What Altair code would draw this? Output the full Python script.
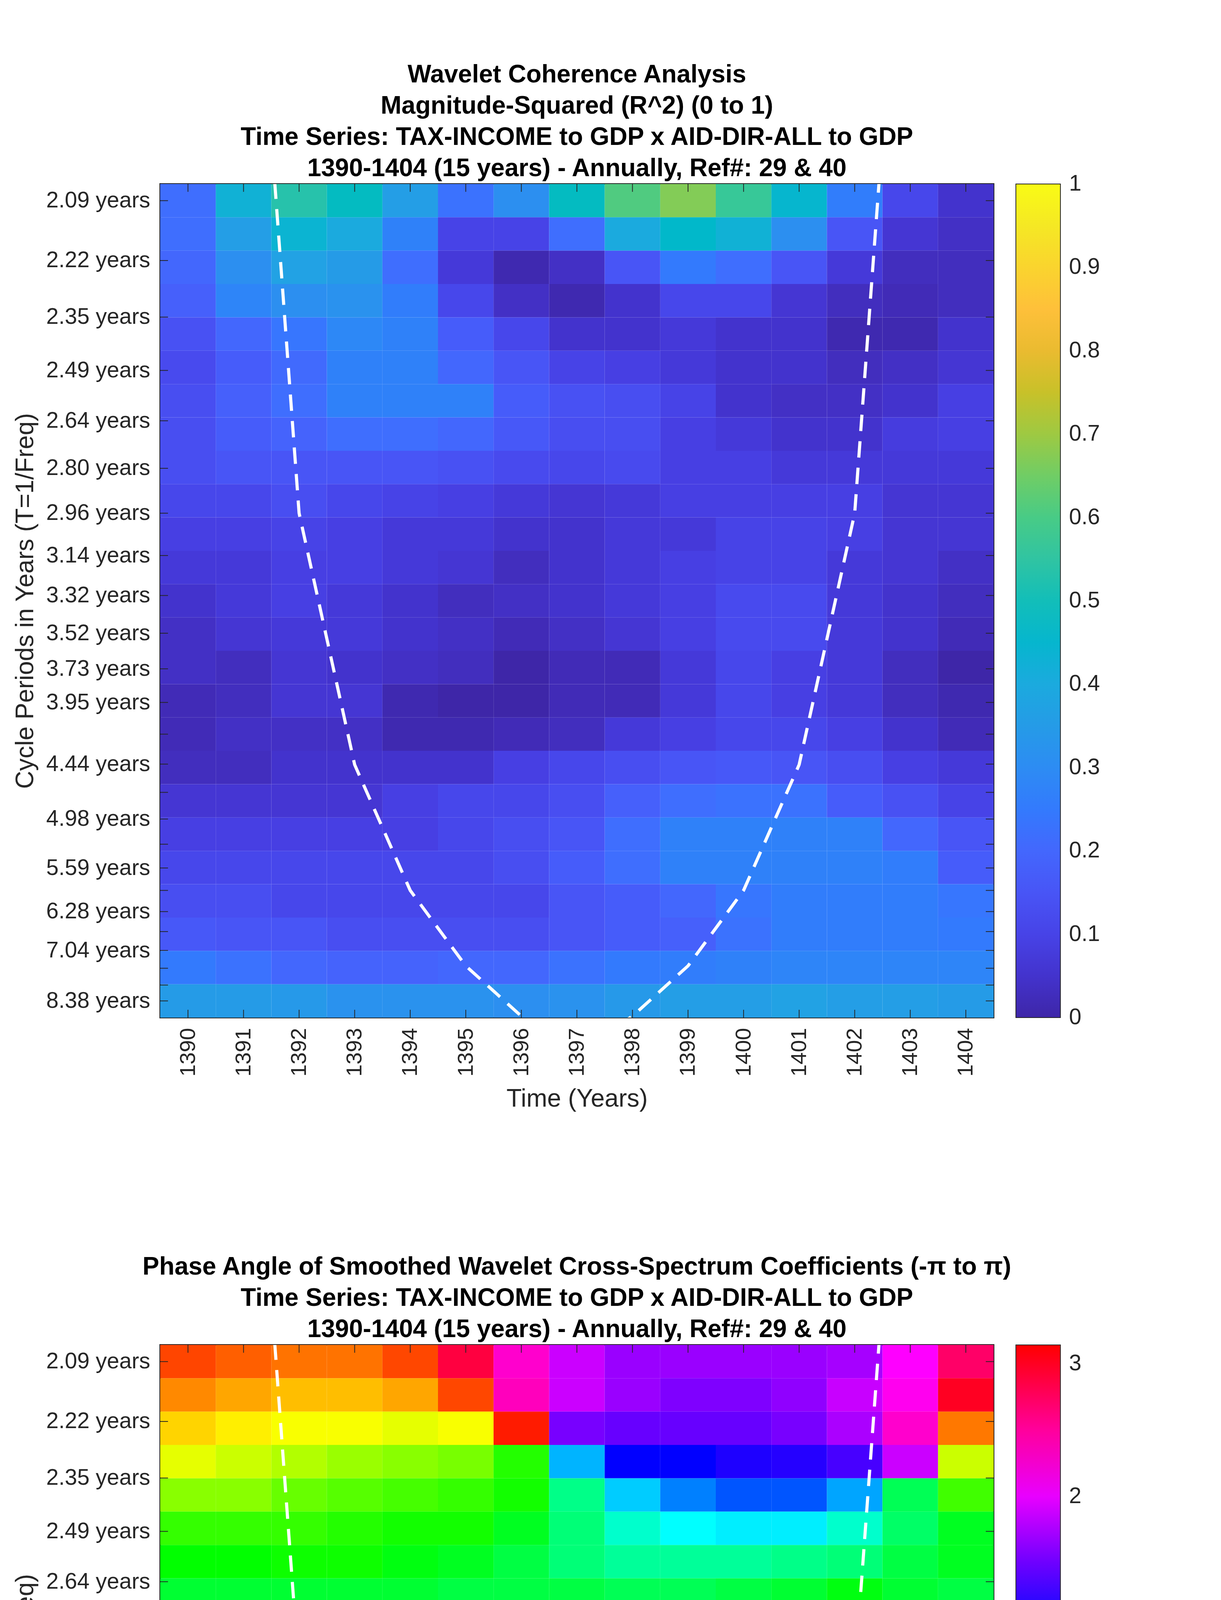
import altair as alt
import pandas as pd

# ---------------- data ----------------
YEARS = [1390, 1391, 1392, 1393, 1394, 1395, 1396, 1397, 1398, 1399, 1400, 1401, 1402, 1403, 1404]

# wavelet scale periods (years), top row -> bottom row; also the y tick positions
SCALE_PERIODS = [2.0944, 2.2189, 2.3509, 2.4907, 2.6388, 2.7957, 2.9620, 3.1381, 3.3247,
                 3.5224, 3.7318, 3.9537, 4.1888, 4.4379, 4.7018, 4.9813, 5.2775, 5.5914,
                 5.9238, 6.2761, 6.6493, 7.0447, 7.4636, 7.9074, 8.3776]
PERIOD_LABELED = [True, True, True, True, True, True, True, True, True, True, True, True,
                  False, True, False, True, False, True, False, True, False, True, False, False, True]

# cone of influence (period in years at each year)
COI_YEARS = [1391, 1392, 1393, 1394, 1395, 1396, 1397, 1398, 1399, 1400, 1401, 1402, 1403]
COI_PERIODS = [1.481, 2.962, 4.443, 5.924, 7.405, 8.886, 10.367, 8.886, 7.405, 5.924, 4.443, 2.962, 1.481]

# magnitude-squared coherence, one list per period row (top -> bottom), columns = YEARS
COHERENCE = [
    [0.22, 0.43, 0.53, 0.48, 0.36, 0.23, 0.31, 0.48, 0.61, 0.67, 0.57, 0.45, 0.26, 0.11, 0.05],
    [0.22, 0.36, 0.44, 0.40, 0.27, 0.10, 0.10, 0.22, 0.40, 0.46, 0.43, 0.31, 0.15, 0.06, 0.04],
    [0.20, 0.31, 0.37, 0.35, 0.22, 0.07, 0.01, 0.04, 0.15, 0.25, 0.22, 0.15, 0.07, 0.03, 0.03],
    [0.18, 0.28, 0.31, 0.32, 0.26, 0.11, 0.04, 0.01, 0.05, 0.11, 0.11, 0.06, 0.03, 0.02, 0.03],
    [0.14, 0.20, 0.24, 0.29, 0.27, 0.17, 0.11, 0.05, 0.05, 0.07, 0.05, 0.05, 0.01, 0.01, 0.05],
    [0.12, 0.17, 0.21, 0.27, 0.27, 0.20, 0.15, 0.10, 0.09, 0.07, 0.05, 0.05, 0.03, 0.04, 0.06],
    [0.13, 0.18, 0.22, 0.27, 0.27, 0.27, 0.17, 0.14, 0.13, 0.10, 0.05, 0.04, 0.04, 0.05, 0.09],
    [0.13, 0.17, 0.19, 0.22, 0.22, 0.20, 0.16, 0.13, 0.13, 0.09, 0.07, 0.05, 0.05, 0.08, 0.09],
    [0.13, 0.15, 0.15, 0.15, 0.15, 0.14, 0.12, 0.11, 0.12, 0.09, 0.09, 0.07, 0.07, 0.07, 0.07],
    [0.11, 0.11, 0.13, 0.11, 0.10, 0.09, 0.07, 0.06, 0.07, 0.09, 0.09, 0.09, 0.09, 0.06, 0.06],
    [0.09, 0.09, 0.10, 0.09, 0.07, 0.07, 0.05, 0.05, 0.07, 0.07, 0.10, 0.10, 0.09, 0.06, 0.06],
    [0.07, 0.07, 0.09, 0.09, 0.07, 0.06, 0.03, 0.05, 0.07, 0.09, 0.10, 0.10, 0.07, 0.06, 0.04],
    [0.05, 0.07, 0.09, 0.07, 0.05, 0.03, 0.04, 0.05, 0.07, 0.09, 0.12, 0.12, 0.07, 0.05, 0.03],
    [0.04, 0.06, 0.07, 0.07, 0.05, 0.04, 0.02, 0.04, 0.06, 0.09, 0.12, 0.12, 0.07, 0.05, 0.02],
    [0.04, 0.03, 0.06, 0.05, 0.04, 0.03, 0.00, 0.02, 0.02, 0.07, 0.11, 0.09, 0.07, 0.03, 0.00],
    [0.02, 0.03, 0.06, 0.06, 0.01, 0.00, 0.00, 0.02, 0.02, 0.07, 0.11, 0.09, 0.07, 0.03, 0.01],
    [0.02, 0.04, 0.04, 0.04, 0.01, 0.01, 0.02, 0.03, 0.07, 0.09, 0.11, 0.11, 0.09, 0.05, 0.02],
    [0.03, 0.03, 0.05, 0.05, 0.05, 0.05, 0.09, 0.11, 0.13, 0.15, 0.16, 0.15, 0.13, 0.09, 0.07],
    [0.06, 0.06, 0.06, 0.06, 0.09, 0.11, 0.11, 0.13, 0.18, 0.22, 0.23, 0.23, 0.17, 0.14, 0.10],
    [0.09, 0.09, 0.09, 0.09, 0.09, 0.11, 0.13, 0.15, 0.22, 0.27, 0.27, 0.27, 0.27, 0.20, 0.15],
    [0.11, 0.11, 0.11, 0.11, 0.11, 0.11, 0.13, 0.17, 0.22, 0.27, 0.27, 0.27, 0.27, 0.26, 0.17],
    [0.13, 0.13, 0.11, 0.11, 0.11, 0.11, 0.11, 0.15, 0.17, 0.20, 0.24, 0.26, 0.26, 0.26, 0.24],
    [0.16, 0.15, 0.15, 0.13, 0.13, 0.13, 0.13, 0.15, 0.17, 0.18, 0.23, 0.26, 0.26, 0.26, 0.25],
    [0.25, 0.23, 0.20, 0.19, 0.19, 0.20, 0.20, 0.23, 0.25, 0.26, 0.27, 0.28, 0.28, 0.28, 0.28],
    [0.35, 0.35, 0.34, 0.32, 0.32, 0.32, 0.31, 0.32, 0.34, 0.36, 0.36, 0.37, 0.36, 0.36, 0.35],
]

# phase angle (radians), one list per period row (top -> bottom), columns = YEARS
PHASE = [
    [-2.86, -2.75, -2.67, -2.67, -2.85, 2.88, 2.30, 1.88, 1.68, 1.68, 1.68, 1.68, 1.73, 2.09, 2.72],
    [-2.58, -2.46, -2.36, -2.36, -2.46, -2.85, 2.37, 1.88, 1.68, 1.57, 1.57, 1.64, 1.87, 2.16, 3.00],
    [-2.27, -2.16, -2.07, -2.07, -1.99, -2.07, -3.03, 1.54, 1.47, 1.47, 1.47, 1.54, 1.75, 2.30, -2.65],
    [-1.99, -1.88, -1.78, -1.68, -1.61, -1.54, -1.19, 0.31, 1.05, 1.05, 1.17, 1.20, 1.34, 1.88, -1.88],
    [-1.61, -1.61, -1.47, -1.40, -1.33, -1.26, -1.12, -0.49, 0.21, 0.52, 0.70, 0.70, 0.37, -0.70, -1.31],
    [-1.26, -1.26, -1.26, -1.19, -1.12, -1.12, -0.91, -0.56, -0.21, 0.00, 0.07, 0.07, -0.21, -0.63, -0.91],
    [-1.05, -1.05, -1.10, -1.10, -0.98, -0.91, -0.77, -0.56, -0.42, -0.42, -0.42, -0.49, -0.56, -0.77, -0.91],
    [-0.84, -0.84, -0.84, -0.84, -0.84, -0.77, -0.77, -0.77, -0.70, -0.70, -0.77, -0.84, -0.98, -0.84, -0.77],
    [-0.70, -0.63, -0.63, -0.63, -0.63, -0.63, -0.70, -0.91, -0.91, -0.98, -1.19, -1.26, -1.19, -1.12, -0.77],
    [-0.56, -0.54, -0.52, -0.52, -0.52, -0.56, -0.70, -0.98, -1.12, -1.26, -1.47, -1.47, -1.47, -1.19, -0.77],
    [-0.49, -0.49, -0.42, -0.49, -0.49, -0.56, -0.77, -1.05, -1.33, -1.54, -1.68, -1.68, -1.61, -1.33, -0.84],
    [-0.42, -0.40, -0.42, -0.40, -0.49, -0.56, -0.84, -1.19, -1.47, -1.68, -1.78, -1.78, -1.78, -1.47, -1.12],
    [-0.35, -0.32, -0.21, -0.30, -0.40, -0.52, -1.00, -1.40, -1.68, -1.78, -1.88, -1.88, -1.75, -1.68, -1.19],
    [-0.21, -0.14, 0.00, -0.10, -0.21, -0.42, -0.91, -1.47, -1.81, -1.88, -1.95, -1.95, -1.88, -1.75, -1.26],
    [0.10, 0.19, 0.29, 0.21, 0.07, -0.07, -0.91, -1.68, -1.95, -2.06, -2.06, -2.06, -2.06, -1.95, -1.47],
    [0.70, 0.70, 0.70, 0.70, 0.70, 0.70, -2.27, -2.38, -2.38, -2.38, -2.27, -2.27, -2.38, -2.38, -2.38],
    [1.54, 1.26, 1.26, 1.26, 1.47, 1.95, 2.79, -2.93, -2.72, -2.65, -2.58, -2.58, -2.58, -2.72, -2.93],
    [2.37, 2.09, 1.83, 1.95, 2.16, 2.51, 2.83, -3.14, -3.00, -2.93, -2.72, -2.72, -2.72, -2.79, -3.03],
    [2.79, 2.58, 2.51, 2.51, 2.58, 2.72, 2.83, -3.14, -2.93, -2.86, -2.86, -2.86, -2.86, -2.93, -3.03],
    [2.93, 2.83, 2.79, 2.79, 2.79, 2.83, 3.00, 3.14, -3.03, -2.93, -2.93, -2.93, -2.93, -2.93, -3.03],
    [3.14, 3.00, 2.93, 2.93, 3.00, 3.00, 3.14, -3.05, -2.98, -2.98, -2.86, -2.86, -2.98, -2.98, -3.03],
    [-3.03, -3.03, -3.14, -3.14, -3.03, -3.03, -2.93, -2.93, -2.86, -2.86, -2.86, -2.86, -2.86, -2.86, -2.93],
    [-2.93, -2.93, -2.93, -2.93, -2.93, -2.86, -2.86, -2.79, -2.75, -2.75, -2.75, -2.75, -2.75, -2.86, -2.86],
    [-2.86, -2.86, -2.86, -2.86, -2.72, -2.72, -2.65, -2.65, -2.65, -2.65, -2.65, -2.65, -2.65, -2.75, -2.75],
    [-2.75, -2.75, -2.75, -2.75, -2.75, -2.65, -2.65, -2.65, -2.58, -2.58, -2.58, -2.58, -2.65, -2.65, -2.65],
]

COH_LEGEND_VALUES = [0, 0.1, 0.2, 0.3, 0.4, 0.5, 0.6, 0.7, 0.8, 0.9, 1]
PHASE_LEGEND_VALUES = [-3, -2, -1, 0, 1, 2, 3]

TITLE_TOP = ["Wavelet Coherence Analysis",
             "Magnitude-Squared (R^2) (0 to 1)",
             "Time Series: TAX-INCOME to GDP x AID-DIR-ALL to GDP",
             "1390-1404 (15 years) - Annually, Ref#: 29 & 40"]
TITLE_BOTTOM = ["Phase Angle of Smoothed Wavelet Cross-Spectrum Coefficients (-\u03c0 to \u03c0)",
                "Time Series: TAX-INCOME to GDP x AID-DIR-ALL to GDP",
                "1390-1404 (15 years) - Annually, Ref#: 29 & 40"]

# ---------------- styles ----------------
PARULA = ["#3e26a8", "#402ab4", "#422ebf", "#4332cb", "#4537d5", "#463cde", "#4741e5", "#4747eb",
          "#484df0", "#4852f4", "#4758f8", "#465efb", "#4563fc", "#4269fd", "#3e6ffe", "#3875fe",
          "#327bfc", "#2f81f9", "#2d87f7", "#2d8cf3", "#2b91ee", "#2797eb", "#259be7", "#23a0e5",
          "#20a5e3", "#1ca9df", "#18addb", "#12b1d6", "#08b5d0", "#01b8ca", "#02bbc3", "#0bbdbc",
          "#18bfb5", "#24c1ae", "#2cc3a7", "#32c5a0", "#37c897", "#3fca8e", "#4acb84", "#57cc7a",
          "#63cd6f", "#71cd64", "#80cc59", "#8fcb4e", "#9dc943", "#abc739", "#b9c431", "#c5c22a",
          "#d1bf27", "#dcbd29", "#e7bb2d", "#efba35", "#f8ba3d", "#fdbd3c", "#fec338", "#fec934",
          "#fccf30", "#f9d62d", "#f7dc2a", "#f5e327", "#f5e924", "#f5ef20", "#f7f51b", "#f9fb15"]
HSV = ["#ff0000", "#ffff00", "#00ff00", "#00ffff", "#0000ff", "#ff00ff", "#ff0000"]
PI = 3.141592653589793

W, H = 2133, 2134
TICK = 20
AXIS_COLOR = "#262626"
FONT = "Liberation Sans"

f_hi = 1 / SCALE_PERIODS[0]
f_lo = 1 / SCALE_PERIODS[-1]
step = (f_hi - f_lo) / (len(SCALE_PERIODS) - 1)
xs = alt.Scale(domain=[YEARS[0] - 0.5, YEARS[-1] + 0.5], nice=False, zero=False)
ys = alt.Scale(domain=[f_lo - step / 2, f_hi + step / 2], nice=False, zero=False)

hidden = [f"{p:.2f}" for p, lab in zip(SCALE_PERIODS, PERIOD_LABELED) if not lab]
lab_fmt = "format(1/datum.value, '.2f')"
hidden_test = " || ".join(f"{lab_fmt} == '{h}'" for h in hidden)
y_label_expr = f"({hidden_test}) ? '' : {lab_fmt} + ' years'"

x_axis = alt.Axis(values=YEARS, format="d", title="Time (Years)", labelAngle=270,
                  labelAlign="right", labelBaseline="middle", labelPadding=26,
                  ticks=False, tickSize=0, domain=False, grid=False, labelLimit=800,
                  labelFontSize=56, titleFontSize=64, labelFont=FONT, titleFont=FONT,
                  labelColor=AXIS_COLOR, titleColor=AXIS_COLOR, titleFontWeight="normal",
                  titlePadding=26, labelFlush=False, labelOverlap=False)
y_axis = alt.Axis(values=[1 / p for p in SCALE_PERIODS],
                  labelExpr=y_label_expr,
                  title="Cycle Periods in Years (T=1/Freq)", labelPadding=26,
                  ticks=False, tickSize=0, domain=False, grid=False, labelLimit=800,
                  labelFontSize=57, titleFontSize=64, labelFont=FONT, titleFont=FONT,
                  labelColor=AXIS_COLOR, titleColor=AXIS_COLOR, titleFontWeight="normal",
                  labelFlush=False, labelOverlap=False, titleLimit=3000,
                  titleX=-326, titleY=H / 2, titleAngle=270, titleAlign="center",
                  titleBaseline="alphabetic")


def cells(matrix):
    rows = []
    for i, vals in enumerate(matrix):
        fc = f_hi - i * step
        for yr, v in zip(YEARS, vals):
            rows.append(dict(x=yr - 0.5, x2=yr + 0.5, y=fc + step / 2, y2=fc - step / 2, v=v))
    return pd.DataFrame(rows)


def inside(values, lo, hi):
    # keep end labels centred on the bar ends (vega shifts labels placed exactly at the ends)
    eps = (hi - lo) * 1e-4
    return [min(max(v, lo + eps), hi - eps) for v in values]


def panel(matrix, cscale, legend_values, lo, hi, title_lines):
    legend = alt.Legend(type="gradient", orient="none", legendX=W + 57, legendY=0,
                        direction="vertical",
                        gradientLength=H, gradientThickness=114, title=None,
                        values=inside(legend_values, lo, hi),
                        labelExpr="'' + round(datum.value * 10) / 10",
                        labelFontSize=57, labelFont=FONT, labelColor=AXIS_COLOR,
                        labelOffset=22, gradientStrokeColor=AXIS_COLOR, gradientStrokeWidth=2,
                        labelOverlap=False, labelLimit=400)
    heat = alt.Chart(cells(matrix)).mark_rect().encode(
        x=alt.X("x:Q", scale=xs, axis=x_axis), x2="x2:Q",
        y=alt.Y("y:Q", scale=ys, axis=y_axis), y2="y2:Q",
        color=alt.Color("v:Q", scale=cscale, legend=legend),
    )
    coi = alt.Chart(pd.DataFrame({"year": COI_YEARS, "period": COI_PERIODS})).transform_calculate(
        f="1/datum.period"
    ).mark_line(color="white", strokeWidth=8, strokeDash=[42, 26], clip=True).encode(
        x=alt.X("year:Q", scale=xs, axis=x_axis), y=alt.Y("f:Q", scale=ys, axis=y_axis)
    )
    yt = pd.DataFrame({"p": SCALE_PERIODS})
    xt = pd.DataFrame({"year": YEARS})
    ytick_l = alt.Chart(yt).transform_calculate(f="1/datum.p").mark_rule(
        color=AXIS_COLOR, strokeWidth=2).encode(
        y=alt.Y("f:Q", scale=ys, axis=y_axis), x=alt.value(0), x2=alt.value(TICK))
    ytick_r = alt.Chart(yt).transform_calculate(f="1/datum.p").mark_rule(
        color=AXIS_COLOR, strokeWidth=2).encode(
        y=alt.Y("f:Q", scale=ys, axis=y_axis), x=alt.value(W - TICK), x2=alt.value(W))
    xtick_b = alt.Chart(xt).mark_rule(color=AXIS_COLOR, strokeWidth=2).encode(
        x=alt.X("year:Q", scale=xs, axis=x_axis), y=alt.value(H - TICK), y2=alt.value(H))
    xtick_t = alt.Chart(xt).mark_rule(color=AXIS_COLOR, strokeWidth=2).encode(
        x=alt.X("year:Q", scale=xs, axis=x_axis), y=alt.value(0), y2=alt.value(TICK))
    return alt.layer(heat, coi, ytick_l, ytick_r, xtick_b, xtick_t).properties(
        width=W, height=H,
        title=alt.TitleParams(text=title_lines, fontSize=64, font=FONT, fontWeight="bold",
                              lineHeight=80, anchor="middle", frame="group", offset=6,
                              color="black", limit=3000),
    )


coh_scale = alt.Scale(domain=[k / 63 for k in range(64)], range=PARULA, interpolate="rgb")
phase_scale = alt.Scale(domain=[-PI + k * PI / 3 for k in range(7)], range=HSV, interpolate="rgb")

top = panel(COHERENCE, coh_scale, COH_LEGEND_VALUES, 0.0, 1.0, TITLE_TOP)
bottom = panel(PHASE, phase_scale, PHASE_LEGEND_VALUES, -PI, PI, TITLE_BOTTOM)

chart = alt.vconcat(top, bottom, spacing=362).resolve_scale(
    color="independent"
).resolve_legend(color="independent").properties(
    padding={"left": 23, "top": 150, "right": 5, "bottom": 5},
    background="white",
).configure_view(stroke=AXIS_COLOR, strokeWidth=4)

chart.save("out.html", embed_options={"renderer": "svg", "actions": False})
